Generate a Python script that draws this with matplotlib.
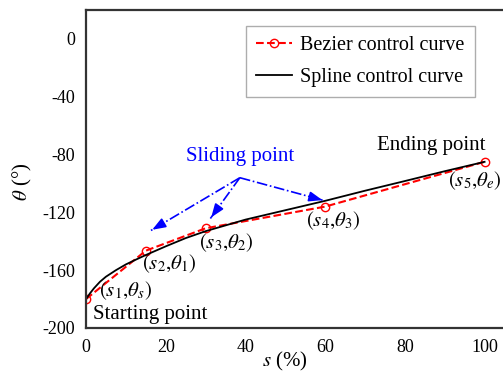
import numpy as np
import matplotlib
matplotlib.use('Agg')
import matplotlib.pyplot as plt

# Bezier control points (s %, theta deg)
bez_s = [0, 15, 30, 60, 100]
bez_theta = [-180, -146.5, -131, -116, -85]

# spline curve
spl_s = [0, 1, 2, 3.5, 5, 7.5, 10, 12.5, 15, 20, 25, 30, 35, 40, 50, 60, 70, 80, 90, 100]
spl_theta = [-180, -176, -172.5, -168, -164.5, -160, -156, -152.7, -149.5, -143.5, -137.8, -133,
             -129, -125, -118.5, -112, -105, -98.3, -91.5, -85]

pt_labels = [r'$(s_1{,}\theta_s)$', r'$(s_2{,}\theta_1)$', r'$(s_3{,}\theta_2)$',
             r'$(s_4{,}\theta_3)$', r'$(s_5{,}\theta_e)$']
label_pos = [(9.8, -174), (20.8, -155.5), (35.2, -141), (62, -126), (97.5, -98)]

# sliding point arrows
arrow_from = (38.6, -96)
arrow_to = [(16, -133), (31, -125), (60, -112)]

plt.rcParams['font.family'] = ['Liberation Serif', 'DejaVu Serif']
plt.rcParams['mathtext.fontset'] = 'stix'
plt.rcParams['axes.unicode_minus'] = False

fig = plt.figure(figsize=(5.03, 3.74), dpi=100)
ax = fig.add_axes([0.171, 0.123, 0.832, 0.850])

ax.plot(bez_s, bez_theta, color='red', linestyle='--', linewidth=1.5, marker='o',
        markersize=6, markerfacecolor='none', markeredgewidth=1.0, label='Bezier control curve')
ax.plot(spl_s, spl_theta, color='black', linewidth=1.3, label='Spline control curve')

for lab, (x, y) in zip(pt_labels, label_pos):
    ax.text(x, y, lab, fontsize=15, ha='center', va='center')

ax.text(1.8, -190.6, 'Starting point', fontsize=15, ha='left', va='center')
ax.text(86.7, -74, 'Ending point', fontsize=15, ha='center', va='center')
ax.text(38.6, -81, 'Sliding point', fontsize=15, ha='center', va='center', color='blue')

for tx, ty in arrow_to:
    ax.plot([arrow_from[0], tx], [arrow_from[1], ty], color='blue', linestyle='-.', linewidth=1.2)
    dx, dy = tx - arrow_from[0], ty - arrow_from[1]
    ax.annotate('', xy=(tx, ty), xytext=(tx - dx * 0.12, ty - dy * 0.12),
                arrowprops=dict(arrowstyle='-|>,head_length=0.8,head_width=0.3', color='blue', lw=1.2))

ax.set_xlim(0, 105)
ax.set_ylim(-200, 20)
ax.set_xticks([0, 20, 40, 60, 80, 100])
ax.set_yticks([-200, -160, -120, -80, -40, 0])
ax.tick_params(length=0, labelsize=13, pad=8)
ax.spines['right'].set_visible(False)
for sp in ['left', 'bottom', 'top']:
    ax.spines[sp].set_linewidth(1.6)
    ax.spines[sp].set_color('#333333')

ax.set_xlabel(r'$s$ (%)', fontsize=15)
ax.xaxis.set_label_coords(50 / 105, -0.068)
ax.set_ylabel(r'$\theta$ (°)', fontsize=15)
ax.yaxis.set_label_coords(-0.125, 0.46)

leg = ax.legend(loc='upper left', bbox_to_anchor=(0.382, 0.95), fontsize=14.5, frameon=True,
                fancybox=False, edgecolor='#999999', handlelength=1.8, handletextpad=0.4,
                labelspacing=0.65, borderpad=0.5, borderaxespad=0)
leg.get_frame().set_linewidth(1.0)

plt.savefig('out.png', dpi=100)
